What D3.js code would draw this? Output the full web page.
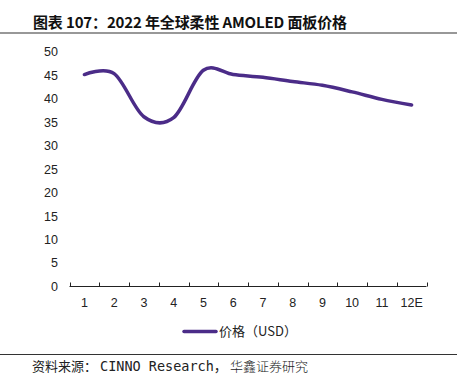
<!DOCTYPE html>
<html>
<head>
<meta charset="utf-8">
<script src="https://cdn.jsdelivr.net/npm/d3@7"></script>
<style>
  body { margin: 0; background: #fff; }
  svg { display: block; }
</style>
</head>
<body>
<svg id="chart" width="464" height="384"></svg>
<script>
// Chart data
const months = ['1', '2', '3', '4', '5', '6', '7', '8', '9', '10', '11', '12E'];
const prices = [45.2, 45.4, 36.2, 36.0, 46.1, 45.2, 44.6, 43.7, 42.9, 41.5, 39.9, 38.7];
const yTicks = [0, 5, 10, 15, 20, 25, 30, 35, 40, 45, 50];

const title = '图表 107：2022 年全球柔性 AMOLED 面板价格';
const seriesName = '价格（USD）';
const sourceParts = ['资料来源：', 'CINNO Research，', '华鑫证券研究'];

const svg = d3.select('#chart');
const lineColor = '#4b2c88';
const cjk = '"Noto Sans CJK SC", "Noto Sans", sans-serif';
const latin = '"Liberation Sans", Arial, sans-serif';
const mono = '"DejaVu Sans Mono", "Noto Sans CJK SC", monospace';

// Title and rules
svg.append('text')
    .attr('x', 33)
    .attr('y', 28)
    .attr('font-family', cjk)
    .attr('font-size', '15px')
    .attr('font-weight', 'bold')
    .attr('fill', '#111')
    .attr('textLength', 314)
    .attr('lengthAdjust', 'spacing')
    .text(title);

svg.append('line')
    .attr('x1', 0).attr('x2', 457)
    .attr('y1', 33).attr('y2', 33)
    .attr('stroke', '#333').attr('stroke-width', 1.2);

svg.append('line')
    .attr('x1', 0).attr('x2', 457)
    .attr('y1', 354.5).attr('y2', 354.5)
    .attr('stroke', '#333').attr('stroke-width', 1);

// Source note, three runs placed like the original
const src = svg.append('text')
    .attr('y', 371)
    .attr('font-size', '13px')
    .attr('fill', '#222');
src.append('tspan').attr('x', 32).attr('font-family', cjk).text(sourceParts[0]);
src.append('tspan').attr('x', 100).attr('font-family', mono).attr('font-size', '13.5px').text(sourceParts[1]);
src.append('tspan').attr('x', 230).attr('font-family', cjk).attr('font-weight', 300).text(sourceParts[2]);

// Scales
const x = d3.scaleBand().domain(months).range([69.5, 426.5]).padding(0);
const y = d3.scaleLinear().domain([0, 50]).range([286.5, 52]);

// Y labels (no axis line)
svg.append('g')
    .selectAll('text')
    .data(yTicks)
    .enter()
    .append('text')
    .attr('x', 58)
    .attr('y', d => y(d))
    .attr('dy', '0.35em')
    .attr('text-anchor', 'end')
    .attr('font-family', latin)
    .attr('font-size', '12.5px')
    .attr('fill', '#222')
    .text(d => d);

// X axis line with inward ticks at band edges
const xAxis = svg.append('g');
xAxis.append('line')
    .attr('x1', x.range()[0]).attr('x2', x.range()[1])
    .attr('y1', y(0)).attr('y2', y(0))
    .attr('stroke', '#222').attr('stroke-width', 1);

const edges = months.map(m => x(m)).concat([x.range()[1]]);
xAxis.selectAll('line.tick')
    .data(edges)
    .enter()
    .append('line')
    .attr('class', 'tick')
    .attr('x1', d => Math.round(d) + 0.5).attr('x2', d => Math.round(d) + 0.5)
    .attr('y1', y(0) - 4).attr('y2', y(0))
    .attr('stroke', '#222').attr('stroke-width', 1);

xAxis.selectAll('text')
    .data(months)
    .enter()
    .append('text')
    .attr('x', d => x(d) + x.bandwidth() / 2)
    .attr('y', 307)
    .attr('text-anchor', 'middle')
    .attr('font-family', latin)
    .attr('font-size', '12.5px')
    .attr('fill', '#222')
    .text(d => d);

// Smoothed price line
const line = d3.line()
    .x((d, i) => x(months[i]) + x.bandwidth() / 2)
    .y(d => y(d))
    .curve(d3.curveCardinal.tension(0));

svg.append('path')
    .datum(prices)
    .attr('d', line)
    .attr('fill', 'none')
    .attr('stroke', lineColor)
    .attr('stroke-width', 3.5)
    .attr('stroke-linecap', 'round');

// Legend
svg.append('line')
    .attr('x1', 184).attr('x2', 216)
    .attr('y1', 331.5).attr('y2', 331.5)
    .attr('stroke', lineColor).attr('stroke-width', 3.5)
    .attr('stroke-linecap', 'round');

svg.append('text')
    .attr('x', 219)
    .attr('y', 336)
    .attr('font-family', cjk)
    .attr('font-size', '13px')
    .attr('fill', '#222')
    .text(seriesName);
</script>
</body>
</html>
